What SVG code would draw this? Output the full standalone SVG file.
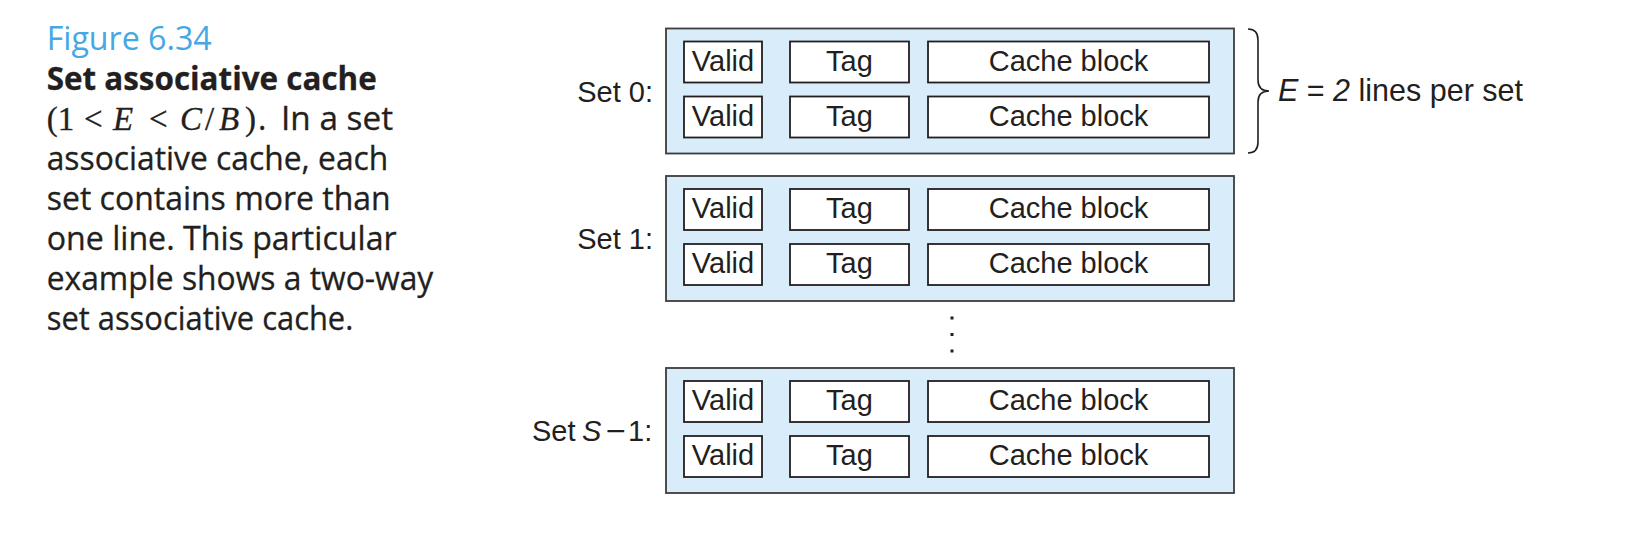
<svg xmlns="http://www.w3.org/2000/svg" width="1642" height="556" viewBox="0 0 1642 556">
<style>
.set{fill:#d9ecf9;stroke:#3c3c3c;stroke-width:1.8}
.cell{fill:#ffffff;stroke:#231f20;stroke-width:1.8}
.lbl{font-family:"Liberation Sans",Arial,sans-serif;font-size:29px;fill:#231f20}
.mid{text-anchor:middle}
.end{text-anchor:end}
.cap{font-family:"Open Sans","Noto Sans",sans-serif;font-size:32px;fill:#231f20;stroke:#231f20;stroke-width:0.3}
.math{font-family:"Liberation Serif","Times New Roman",serif;font-size:33px}
.it{font-style:italic}
.dot{fill:#231f20}
</style>
<rect width="1642" height="556" fill="#ffffff"/>

<g id="caption">
  <text class="cap" x="46.7" y="49.5" style="fill:#45a8e4;stroke:none" textLength="165" lengthAdjust="spacingAndGlyphs">Figure 6.34</text>
  <text class="cap" x="46.7" y="89.5" font-weight="bold" textLength="330" lengthAdjust="spacingAndGlyphs">Set associative cache</text>
  <text class="cap" y="129.5"><tspan class="math" x="46.7">(1</tspan><tspan class="math" x="84">&lt;</tspan><tspan class="math it" x="113">E</tspan><tspan class="math" x="149">&lt;</tspan><tspan class="math it" x="180">C</tspan><tspan class="math" x="205">/</tspan><tspan class="math it" x="219">B</tspan><tspan class="math" x="245">)</tspan><tspan x="258">.</tspan><tspan x="281" textLength="112" lengthAdjust="spacingAndGlyphs">In a set</tspan></text>
  <text class="cap" x="46.7" y="169.5" textLength="341.6" lengthAdjust="spacingAndGlyphs">associative cache, each</text>
  <text class="cap" x="46.7" y="209.5" textLength="344" lengthAdjust="spacingAndGlyphs">set contains more than</text>
  <text class="cap" x="46.7" y="249.5" textLength="350" lengthAdjust="spacingAndGlyphs">one line. This particular</text>
  <text class="cap" x="46.7" y="289.5" textLength="386.6" lengthAdjust="spacingAndGlyphs">example shows a two-way</text>
  <text class="cap" x="46.7" y="329.5" textLength="306.6" lengthAdjust="spacingAndGlyphs">set associative cache.</text>
</g>

<g id="set0" transform="translate(0,28.5)">
  <rect class="set" x="666" y="0" width="568" height="125"/>
  <text class="lbl end" x="653" y="73">Set 0:</text>
  <rect class="cell" x="684" y="13" width="78" height="41"/>
  <rect class="cell" x="790" y="13" width="119" height="41"/>
  <rect class="cell" x="928" y="13" width="281" height="41"/>
  <rect class="cell" x="684" y="68" width="78" height="41"/>
  <rect class="cell" x="790" y="68" width="119" height="41"/>
  <rect class="cell" x="928" y="68" width="281" height="41"/>
  <text class="lbl mid" x="723" y="42">Valid</text>
  <text class="lbl mid" x="849.5" y="42">Tag</text>
  <text class="lbl mid" x="1068.5" y="42">Cache block</text>
  <text class="lbl mid" x="723" y="97">Valid</text>
  <text class="lbl mid" x="849.5" y="97">Tag</text>
  <text class="lbl mid" x="1068.5" y="97">Cache block</text>
</g>

<g id="set1" transform="translate(0,176)">
  <rect class="set" x="666" y="0" width="568" height="125"/>
  <text class="lbl end" x="653" y="73">Set 1:</text>
  <rect class="cell" x="684" y="13" width="78" height="41"/>
  <rect class="cell" x="790" y="13" width="119" height="41"/>
  <rect class="cell" x="928" y="13" width="281" height="41"/>
  <rect class="cell" x="684" y="68" width="78" height="41"/>
  <rect class="cell" x="790" y="68" width="119" height="41"/>
  <rect class="cell" x="928" y="68" width="281" height="41"/>
  <text class="lbl mid" x="723" y="42">Valid</text>
  <text class="lbl mid" x="849.5" y="42">Tag</text>
  <text class="lbl mid" x="1068.5" y="42">Cache block</text>
  <text class="lbl mid" x="723" y="97">Valid</text>
  <text class="lbl mid" x="849.5" y="97">Tag</text>
  <text class="lbl mid" x="1068.5" y="97">Cache block</text>
</g>

<g id="ellipsis">
  <rect class="dot" x="950.5" y="316.5" width="3" height="3"/>
  <rect class="dot" x="950.5" y="333" width="3" height="3"/>
  <rect class="dot" x="950.5" y="349.5" width="3" height="3"/>
</g>

<g id="setS1" transform="translate(0,368)">
  <rect class="set" x="666" y="0" width="568" height="125"/>
  <text class="lbl" y="73"><tspan x="532">Set</tspan><tspan class="it" x="582">S</tspan><tspan x="606" textLength="20" lengthAdjust="spacingAndGlyphs">−</tspan><tspan x="628">1:</tspan></text>
  <rect class="cell" x="684" y="13" width="78" height="41"/>
  <rect class="cell" x="790" y="13" width="119" height="41"/>
  <rect class="cell" x="928" y="13" width="281" height="41"/>
  <rect class="cell" x="684" y="68" width="78" height="41"/>
  <rect class="cell" x="790" y="68" width="119" height="41"/>
  <rect class="cell" x="928" y="68" width="281" height="41"/>
  <text class="lbl mid" x="723" y="42">Valid</text>
  <text class="lbl mid" x="849.5" y="42">Tag</text>
  <text class="lbl mid" x="1068.5" y="42">Cache block</text>
  <text class="lbl mid" x="723" y="97">Valid</text>
  <text class="lbl mid" x="849.5" y="97">Tag</text>
  <text class="lbl mid" x="1068.5" y="97">Cache block</text>
</g>

<g id="connectors">
  <path d="M1248,29 Q1258,29 1258,40 L1258,80 Q1258,91 1269,91 Q1258,91 1258,102 L1258,142 Q1258,153 1248,153" fill="none" stroke="#231f20" stroke-width="1.6"/>
</g>

<g id="E-label">
  <text class="lbl" x="1278" y="101" style="font-size:30.5px"><tspan class="it">E</tspan> = <tspan class="it">2</tspan> lines per set</text>
</g>
</svg>
